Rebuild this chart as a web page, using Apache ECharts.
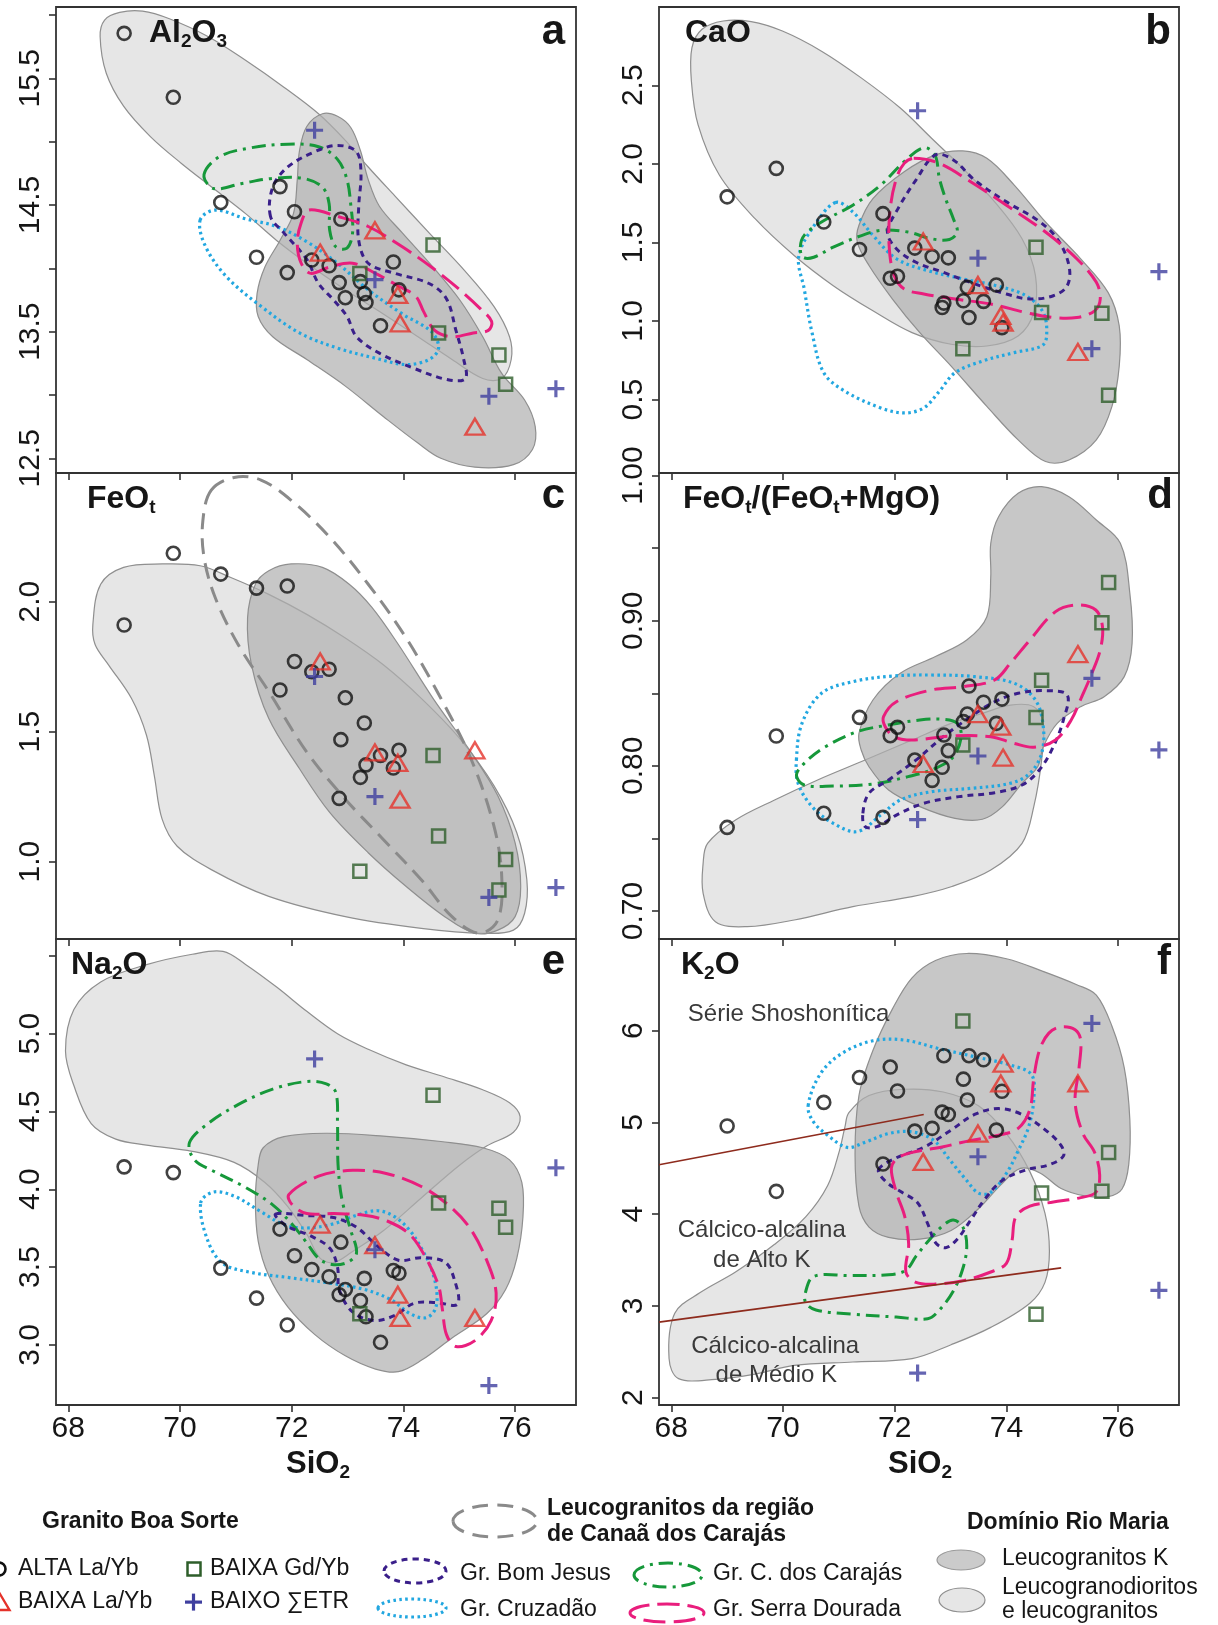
<!DOCTYPE html>
<html>
<head>
<meta charset="utf-8">
<title>Diagramas SiO2</title>
<script src="https://cdn.jsdelivr.net/npm/echarts@6.0.0/dist/echarts.min.js"></script>
<style>
html,body{margin:0;padding:0;background:#ffffff;}
#chart{width:1218px;height:1625px;}
</style>
</head>
<body>
<div id="chart"></div>
<script>
// ---------------- axis ticks ----------------
const XMIN = 67.78, XMAX = 77.09;
const xTicks = [68, 70, 72, 74, 76];
const aYTicks = [12.5, 13, 13.5, 14, 14.5, 15, 15.5, 16];
const aYLabels = [12.5, 13.5, 14.5, 15.5];
const bYTicks = [0.5, 1.0, 1.5, 2.0, 2.5];
const cYTicks = [1.0, 1.5, 2.0];
const dYTicks = [0.70, 0.75, 0.80, 0.85, 0.90, 0.95, 1.00];
const dYLabels = [0.70, 0.80, 0.90, 1.00];
const eYTicks = [3.0, 3.5, 4.0, 4.5, 5.0, 5.5];
const eYLabels = [3.0, 3.5, 4.0, 4.5, 5.0];
const fYTicks = [2, 3, 4, 5, 6];

// ---------------- samples: Granito Boa Sorte ----------------
// ALTA La/Yb (circles)
const circleSiO2 = [69.0, 69.88, 70.73, 71.37, 71.79, 71.92, 72.05, 72.36, 72.67, 72.85, 72.88, 72.96, 73.23, 73.30, 73.33, 73.59, 73.82, 73.92];
const circleAl2O3 = [15.855, 15.35, 14.52, 14.087, 14.645, 13.966, 14.447, 14.066, 14.02, 13.887, 14.387, 13.768, 13.895, 13.80, 13.73, 13.547, 14.05, 13.83];
const circleCaO = [1.79, 1.971, 1.63, 1.455, 1.683, 1.272, 1.285, 1.464, 1.41, 1.086, 1.114, 1.402, 1.129, 1.214, 1.022, 1.125, 1.229, 0.958];
const circleFeOt = [1.91, 2.186, 2.106, 2.052, 1.66, 2.06, 1.77, 1.73, 1.74, 1.243, 1.469, 1.63, 1.324, 1.533, 1.372, 1.408, 1.36, 1.428];
const circleFeMg = [0.7576, 0.8206, 0.7673, 0.8334, 0.7645, 0.8208, 0.8266, 0.804, 0.790, 0.799, 0.8213, 0.8105, 0.8305, 0.8357, 0.855, 0.8438, 0.8293, 0.846];
const circleNa2O = [4.144, 4.107, 3.493, 3.30, 3.744, 3.127, 3.573, 3.484, 3.438, 3.322, 3.66, 3.356, 3.284, 3.427, 3.18, 3.016, 3.478, 3.46];
const circleK2O = [4.962, 4.249, 5.219, 5.49, 4.547, 5.604, 5.343, 4.906, 4.936, 5.113, 5.728, 5.087, 5.472, 5.245, 5.728, 5.683, 4.917, 5.34];
// BAIXA La/Yb (triangles)
const triSiO2 = [72.51, 73.49, 73.90, 73.94, 75.28];
const triAl2O3 = [14.124, 14.30, 13.79, 13.566, 12.75];
const triCaO = [1.506, 1.229, 1.033, 0.99, 0.803];
const triFeOt = [1.77, 1.42, 1.38, 1.238, 1.428];
const triFeMg = [0.8013, 0.8357, 0.827, 0.8057, 0.877];
const triNa2O = [3.773, 3.64, 3.322, 3.173, 3.173];
const triK2O = [4.57, 4.879, 5.426, 5.642, 5.426];
// BAIXA Gd/Yb (squares)
const sqSiO2 = [73.22, 74.53, 74.63, 75.71, 75.83];
const sqAl2O3 = [13.96, 14.184, 13.49, 13.316, 13.084];
const sqCaO = [0.824, 1.47, 1.054, 1.05, 0.528];
const sqFeOt = [0.963, 1.408, 1.098, 0.891, 1.008];
const sqFeMg = [0.8144, 0.8334, 0.859, 0.8987, 0.9263];
const sqNa2O = [3.20, 4.604, 3.911, 3.878, 3.756];
const sqK2O = [6.106, 2.909, 4.23, 4.249, 4.672];
// BAIXO SumETR (plus)
const plusSiO2 = [72.41, 73.49, 75.53, 76.73];
const plusAl2O3 = [15.09, 13.91, 12.99, 13.05];
const plusCaO = [2.338, 1.40, 0.824, 1.314];
const plusFeOt = [1.712, 1.25, 0.862, 0.90];
const plusFeMg = [0.763, 0.8068, 0.8603, 0.811];
const plusNa2O = [4.838, 3.611, 2.738, 4.138];
const plusK2O = [2.268, 4.626, 6.08, 3.17];

// ---------------- comparison fields (SiO2, oxide) ----------------
const aLight = [[68.57,15.83],[68.65,15.96],[68.92,16.02],[69.33,16.03],[69.81,15.97],[70.50,15.83],[71.18,15.64],[71.86,15.43],[72.48,15.22],[72.96,15.01],[73.37,14.80],[73.85,14.57],[74.46,14.28],[75.08,13.99],[75.62,13.70],[75.90,13.46],[75.93,13.28],[75.76,13.13],[75.42,13.13],[74.87,13.28],[74.26,13.46],[73.64,13.64],[72.96,13.83],[72.27,14.04],[71.73,14.22],[71.18,14.43],[70.63,14.62],[70.02,14.83],[69.47,15.04],[68.99,15.28],[68.68,15.54]];
const aDark = [[72.27,15.12],[72.55,15.22],[72.82,15.20],[73.06,15.11],[73.23,14.93],[73.37,14.70],[73.57,14.49],[73.98,14.28],[74.53,14.01],[75.01,13.75],[75.42,13.46],[75.76,13.17],[76.17,12.96],[76.36,12.75],[76.31,12.57],[75.97,12.45],[75.28,12.43],[74.67,12.50],[74.26,12.62],[73.64,12.83],[72.96,13.07],[72.27,13.28],[71.66,13.46],[71.40,13.62],[71.38,13.80],[71.52,14.01],[71.79,14.22],[72.03,14.43],[72.10,14.70],[72.14,14.93]];
const aBom = [[71.62,14.41],[71.66,14.64],[71.93,14.80],[72.41,14.92],[72.82,14.97],[73.16,14.92],[73.24,14.75],[73.20,14.49],[73.20,14.22],[73.37,14.04],[73.85,13.96],[74.46,13.88],[74.77,13.76],[74.94,13.51],[75.08,13.28],[75.11,13.13],[74.80,13.12],[74.19,13.21],[73.57,13.33],[73.16,13.46],[72.99,13.62],[72.75,13.75],[72.48,13.88],[72.27,14.07],[71.86,14.28]];
const aCru = [[70.36,14.38],[70.63,14.46],[71.18,14.39],[71.73,14.33],[72.27,14.21],[72.82,14.04],[73.37,13.83],[73.98,13.64],[74.50,13.50],[74.63,13.37],[74.46,13.28],[74.05,13.24],[73.50,13.29],[72.82,13.37],[72.14,13.49],[71.45,13.70],[70.84,13.93],[70.46,14.17]];
const aCar = [[70.43,14.74],[70.70,14.88],[71.25,14.95],[71.93,14.98],[72.48,14.96],[72.82,14.86],[72.99,14.70],[73.06,14.49],[73.09,14.28],[72.99,14.16],[72.79,14.17],[72.68,14.30],[72.67,14.51],[72.55,14.64],[72.21,14.71],[71.66,14.71],[71.11,14.67],[70.60,14.63]];
const aSer = [[72.31,14.46],[72.82,14.41],[73.37,14.33],[73.98,14.17],[74.53,14.00],[75.01,13.83],[75.38,13.68],[75.58,13.58],[75.52,13.51],[75.25,13.49],[74.87,13.46],[74.56,13.51],[74.36,13.66],[74.22,13.78],[73.91,13.86],[73.50,13.96],[73.09,14.04],[72.68,14.01],[72.34,13.96],[72.17,14.04],[72.10,14.20],[72.17,14.36]];

const bLight = [[68.37,2.739],[68.55,2.856],[68.93,2.909],[69.43,2.905],[69.99,2.845],[70.69,2.717],[71.40,2.547],[72.10,2.355],[72.66,2.163],[73.22,1.971],[73.79,1.758],[74.28,1.523],[74.52,1.289],[74.49,1.054],[74.21,0.905],[73.65,0.841],[73.01,0.852],[72.31,0.926],[71.61,1.065],[70.90,1.225],[70.20,1.417],[69.50,1.651],[68.86,1.929],[68.48,2.248],[68.36,2.526]];
const bDark = [[71.36,1.609],[71.61,1.779],[72.17,1.950],[72.73,2.057],[73.22,2.082],[73.65,2.035],[74.14,1.865],[74.70,1.630],[75.33,1.396],[75.82,1.182],[76.02,0.969],[76.02,0.713],[75.89,0.457],[75.61,0.244],[75.12,0.116],[74.70,0.106],[74.21,0.244],[73.65,0.457],[73.01,0.713],[72.45,0.926],[71.96,1.140],[71.54,1.353],[71.33,1.502]];
const bBom = [[71.87,1.566],[72.06,1.715],[72.38,1.897],[72.73,2.057],[73.05,2.025],[73.43,1.897],[74.00,1.758],[74.56,1.641],[74.91,1.523],[75.12,1.353],[75.09,1.225],[74.84,1.161],[74.42,1.140],[74.00,1.172],[73.43,1.236],[72.87,1.310],[72.38,1.374],[72.03,1.460]];
const bCru = [[70.94,1.754],[71.25,1.694],[71.61,1.545],[72.03,1.396],[72.59,1.321],[73.22,1.268],[73.86,1.221],[74.35,1.161],[74.66,1.054],[74.72,0.905],[74.63,0.841],[74.14,0.799],[73.57,0.745],[73.08,0.671],[72.80,0.553],[72.52,0.447],[72.17,0.415],[71.75,0.447],[71.11,0.553],[70.73,0.671],[70.52,0.926],[70.38,1.204],[70.28,1.406],[70.52,1.587]];
const bCar = [[70.31,1.470],[70.38,1.545],[70.69,1.630],[71.25,1.737],[71.75,1.865],[72.17,2.014],[72.52,2.103],[72.72,2.057],[72.80,1.907],[72.91,1.779],[73.05,1.651],[73.12,1.566],[72.98,1.519],[72.66,1.523],[72.24,1.566],[71.75,1.577],[71.33,1.534],[70.90,1.470],[70.55,1.406],[70.36,1.406]];
const bSer = [[72.34,2.035],[72.80,2.003],[73.36,1.886],[74.00,1.737],[74.70,1.566],[75.26,1.396],[75.61,1.246],[75.68,1.140],[75.58,1.065],[75.26,1.022],[74.84,1.022],[74.35,1.054],[73.72,1.108],[73.08,1.140],[72.52,1.172],[72.17,1.204],[71.99,1.289],[71.90,1.481],[71.92,1.715],[72.03,1.907],[72.17,2.003]];

const cLight = [[68.44,1.912],[68.58,2.067],[68.99,2.132],[69.68,2.145],[70.36,2.138],[70.91,2.093],[71.59,2.028],[72.27,1.951],[72.96,1.860],[73.64,1.757],[74.32,1.628],[75.01,1.473],[75.62,1.292],[76.03,1.111],[76.21,0.930],[76.17,0.801],[75.97,0.736],[75.42,0.724],[74.32,0.743],[72.96,0.788],[71.59,0.866],[70.56,0.969],[69.95,1.059],[69.68,1.163],[69.54,1.331],[69.40,1.486],[69.13,1.628],[68.72,1.757],[68.48,1.835]];
const cDark = [[71.59,2.119],[71.99,2.145],[72.55,2.132],[73.03,2.067],[73.44,1.977],[73.91,1.835],[74.53,1.628],[75.21,1.421],[75.69,1.253],[76.00,1.072],[76.10,0.904],[76.00,0.788],[75.69,0.736],[75.28,0.724],[74.74,0.788],[74.05,0.904],[73.37,1.034],[72.68,1.189],[72.14,1.357],[71.59,1.550],[71.28,1.757],[71.21,1.938],[71.35,2.067]];
const cCan = [[70.56,2.429],[70.97,2.478],[71.45,2.468],[71.99,2.390],[72.68,2.248],[73.37,2.067],[74.05,1.860],[74.67,1.628],[75.21,1.395],[75.62,1.137],[75.76,0.943],[75.69,0.775],[75.35,0.724],[74.87,0.788],[74.32,0.930],[73.64,1.085],[72.96,1.240],[72.27,1.421],[71.59,1.654],[71.04,1.835],[70.63,2.016],[70.43,2.171],[70.41,2.313]];

const dLight = [[68.65,0.7466],[69.15,0.7627],[69.85,0.7765],[70.62,0.7903],[71.47,0.8040],[72.31,0.8178],[73.01,0.8293],[73.57,0.8362],[74.07,0.8419],[74.49,0.8408],[74.66,0.8293],[74.63,0.8040],[74.49,0.7719],[74.28,0.7466],[73.72,0.7282],[73.01,0.7167],[72.31,0.7099],[71.25,0.7030],[70.20,0.6938],[69.36,0.6892],[68.79,0.6926],[68.57,0.7122],[68.57,0.7328]];
const dDark = [[71.36,0.8224],[71.61,0.8454],[72.10,0.8638],[72.73,0.8753],[73.29,0.8867],[73.65,0.9028],[73.72,0.9304],[73.72,0.9534],[73.86,0.9717],[74.21,0.9878],[74.63,0.9924],[75.12,0.9855],[75.61,0.9694],[76.04,0.9534],[76.21,0.9189],[76.25,0.8844],[76.11,0.8615],[75.75,0.8477],[75.33,0.8408],[74.91,0.8293],[74.66,0.8132],[74.56,0.7994],[74.28,0.7880],[73.93,0.7719],[73.57,0.7632],[73.08,0.7638],[72.45,0.7719],[71.89,0.7834],[71.54,0.7994],[71.40,0.8109]];
const dBom = [[71.43,0.7673],[71.54,0.7811],[71.89,0.7903],[72.38,0.8040],[72.87,0.8201],[73.36,0.8339],[73.79,0.8442],[74.21,0.8500],[74.70,0.8518],[75.09,0.8488],[75.02,0.8316],[74.84,0.8132],[74.59,0.7972],[74.28,0.7868],[73.79,0.7815],[73.15,0.7788],[72.52,0.7742],[72.03,0.7661],[71.68,0.7581],[71.47,0.7581]];
const dCru = [[70.24,0.8040],[70.34,0.8293],[70.69,0.8500],[71.25,0.8580],[71.96,0.8619],[72.66,0.8626],[73.43,0.8615],[74.14,0.8569],[74.52,0.8454],[74.66,0.8270],[74.63,0.8086],[74.42,0.7949],[74.07,0.7880],[73.36,0.7845],[72.66,0.7822],[72.10,0.7765],[71.75,0.7661],[71.33,0.7547],[70.90,0.7604],[70.52,0.7719],[70.27,0.7880]];
const dCar = [[70.24,0.7937],[70.38,0.7868],[70.90,0.7861],[71.61,0.7875],[72.24,0.7926],[72.73,0.7983],[73.05,0.8063],[73.19,0.8201],[73.12,0.8293],[72.87,0.8321],[72.45,0.8316],[71.89,0.8282],[71.33,0.8236],[70.76,0.8132],[70.41,0.8029]];
const dSer = [[71.80,0.8339],[72.03,0.8442],[72.66,0.8523],[73.22,0.8546],[73.79,0.8592],[74.07,0.8707],[74.42,0.8867],[74.88,0.9063],[75.26,0.9109],[75.60,0.9074],[75.72,0.8959],[75.68,0.8799],[75.53,0.8638],[75.35,0.8477],[75.16,0.8316],[74.88,0.8178],[74.49,0.8128],[74.14,0.8155],[73.72,0.8201],[73.01,0.8206],[72.31,0.8178],[71.99,0.8201],[71.83,0.8270]];

const eLight = [[67.95,4.889],[68.10,5.156],[68.58,5.333],[69.40,5.444],[70.22,5.511],[70.77,5.529],[71.18,5.444],[71.73,5.300],[72.27,5.144],[72.82,5.000],[73.37,4.900],[74.05,4.800],[74.74,4.722],[75.42,4.640],[75.90,4.556],[76.09,4.467],[75.97,4.367],[75.49,4.278],[75.01,4.156],[74.32,3.944],[73.64,3.733],[73.09,3.600],[72.75,3.529],[72.51,3.556],[72.27,3.711],[71.93,3.889],[71.52,4.044],[70.97,4.173],[70.22,4.244],[69.40,4.284],[68.85,4.322],[68.41,4.422],[68.10,4.667]];
const eDark = [[71.49,4.267],[71.86,4.338],[72.62,4.360],[73.64,4.342],[74.67,4.307],[75.42,4.267],[75.90,4.189],[76.12,4.044],[76.14,3.822],[76.03,3.556],[75.83,3.356],[75.49,3.200],[74.87,3.044],[74.32,2.900],[73.91,2.827],[73.50,2.844],[72.96,2.929],[72.41,3.067],[71.93,3.244],[71.59,3.444],[71.40,3.667],[71.35,3.933],[71.40,4.156]];
const eBom = [[71.71,3.840],[72.27,3.831],[72.75,3.818],[73.16,3.756],[73.54,3.633],[73.91,3.544],[74.32,3.560],[74.74,3.533],[74.91,3.422],[74.97,3.262],[74.60,3.271],[74.19,3.267],[73.85,3.189],[73.47,3.156],[73.09,3.211],[72.85,3.356],[72.82,3.500],[72.68,3.622],[72.34,3.700],[71.90,3.767]];
const eCru = [[70.37,3.911],[70.60,3.982],[70.97,3.956],[71.45,3.856],[71.86,3.773],[72.27,3.751],[72.75,3.778],[73.16,3.833],[73.54,3.862],[73.85,3.822],[74.12,3.733],[74.32,3.622],[74.50,3.489],[74.60,3.333],[74.56,3.222],[74.39,3.173],[74.12,3.200],[73.78,3.289],[73.30,3.356],[72.62,3.400],[71.93,3.433],[71.25,3.467],[70.77,3.522],[70.50,3.667]];
const eCar = [[70.17,4.300],[70.50,4.422],[71.04,4.544],[71.66,4.644],[72.27,4.693],[72.62,4.678],[72.79,4.622],[72.82,4.422],[72.83,4.156],[72.90,3.933],[73.06,3.733],[73.16,3.589],[72.99,3.529],[72.72,3.516],[72.48,3.556],[72.27,3.656],[72.00,3.778],[71.66,3.900],[71.18,4.011],[70.63,4.111],[70.26,4.189]];
const eSer = [[71.95,3.967],[72.48,4.084],[73.09,4.122],[73.71,4.100],[74.32,4.018],[74.80,3.900],[75.18,3.756],[75.49,3.544],[75.66,3.333],[75.57,3.156],[75.28,3.027],[74.94,2.989],[74.77,3.067],[74.70,3.222],[74.63,3.378],[74.39,3.567],[74.11,3.711],[73.71,3.796],[73.30,3.833],[72.75,3.844],[72.27,3.844],[72.01,3.900]];

const fLight = [[71.18,5.106],[71.54,5.294],[72.17,5.362],[72.87,5.332],[73.50,5.181],[74.00,4.879],[74.42,4.464],[74.69,4.011],[74.77,3.596],[74.69,3.257],[74.42,3.030],[73.72,2.766],[73.01,2.577],[72.31,2.426],[71.25,2.389],[70.20,2.351],[69.50,2.257],[68.79,2.200],[68.13,2.208],[67.96,2.426],[68.06,2.917],[68.51,3.143],[69.15,3.370],[69.85,3.672],[70.41,3.974],[70.80,4.313],[71.01,4.691],[71.11,4.955]];
const fDark = [[71.29,4.653],[71.36,5.294],[71.61,5.785],[71.96,6.238],[72.31,6.577],[72.73,6.766],[73.29,6.842],[74.00,6.785],[74.63,6.653],[75.26,6.502],[75.61,6.389],[75.89,6.049],[76.11,5.596],[76.21,5.030],[76.19,4.540],[76.07,4.275],[75.82,4.192],[75.40,4.200],[74.98,4.280],[74.60,4.450],[74.25,4.500],[73.90,4.320],[73.50,4.060],[73.01,3.823],[72.45,3.728],[71.89,3.747],[71.54,3.860],[71.36,4.087]];
const fBom = [[71.71,4.483],[72.03,4.615],[72.52,4.728],[73.01,4.917],[73.43,5.087],[73.86,5.151],[74.28,5.087],[74.70,4.917],[74.98,4.747],[75.02,4.634],[74.77,4.540],[74.35,4.483],[73.93,4.370],[73.61,4.162],[73.36,3.936],[73.12,3.728],[72.91,3.634],[72.73,3.691],[72.59,3.898],[72.41,4.125],[72.13,4.238],[71.85,4.351]];
const fCru = [[70.45,5.181],[70.66,5.521],[71.04,5.747],[71.61,5.891],[72.17,5.898],[72.80,5.804],[73.43,5.717],[74.07,5.626],[74.45,5.521],[74.49,5.257],[74.40,4.955],[74.21,4.691],[74.00,4.445],[73.72,4.238],[73.50,4.230],[73.26,4.389],[72.98,4.596],[72.70,4.804],[72.31,4.898],[71.89,4.879],[71.47,4.785],[71.15,4.728],[70.80,4.860],[70.54,5.011]];
const fCar = [[70.40,3.143],[70.55,3.321],[71.18,3.332],[71.89,3.340],[72.20,3.389],[72.38,3.540],[72.63,3.728],[72.87,3.879],[73.05,3.936],[73.22,3.860],[73.29,3.653],[73.22,3.408],[73.05,3.162],[72.80,2.955],[72.59,2.860],[72.03,2.879],[71.25,2.909],[70.59,2.955],[70.41,3.030]];
const fSer = [[71.94,4.502],[72.03,4.238],[72.18,3.974],[72.25,3.672],[72.20,3.370],[72.38,3.257],[72.73,3.238],[73.22,3.275],[73.72,3.370],[74.00,3.464],[74.10,3.709],[74.17,3.974],[74.42,4.087],[74.84,4.132],[75.33,4.181],[75.60,4.238],[75.67,4.426],[75.58,4.672],[75.37,4.879],[75.23,5.219],[75.30,5.596],[75.33,5.898],[75.23,6.011],[74.98,6.042],[74.76,5.974],[74.59,5.785],[74.49,5.483],[74.42,5.143],[74.21,4.936],[73.86,4.860],[73.36,4.804],[72.87,4.736],[72.38,4.683],[72.06,4.615]];

// K2O series boundaries and labels
const fLineShoHK = [[67.78, 4.54], [72.52, 5.087]];
const fLineHKMK = [[67.78, 2.823], [74.98, 3.415]];
const fTextPos = [[70.10, 6.18], [69.62, 3.823], [69.62, 3.50], [69.86, 2.558], [69.88, 2.238]];
const fTextLabels = ['Série Shoshonítica', 'Cálcico-alcalina', 'de Alto K', 'Cálcico-alcalina', 'de Médio K'];

// ---------------- layout / styles ----------------
const FONT = '"Liberation Sans", Arial, Helvetica, sans-serif';
const INK = '#161616';
const FRAME = '#333333';
const GRID_LEFT = [56, 659];
const GRID_TOP = [7, 473, 939];
const GRID_W = 520, GRID_H = 466;

const STY = {
  light: {z: 1, fill: '#e6e6e6', stroke: '#8f8f8f', lineWidth: 1.2},
  dark:  {z: 2, fill: 'rgba(175,175,175,0.70)', stroke: '#8f8f8f', lineWidth: 1.2},
  bom:   {z: 3, fill: 'none', stroke: '#3a1f8a', lineWidth: 3, lineDash: [6, 5]},
  cru:   {z: 3, fill: 'none', stroke: '#22a7e0', lineWidth: 3.2, lineDash: [2.6, 3.4]},
  car:   {z: 3, fill: 'none', stroke: '#16983a', lineWidth: 3, lineDash: [14, 6, 3, 6]},
  ser:   {z: 3, fill: 'none', stroke: '#e91e7d', lineWidth: 3, lineDash: [22, 8]},
  can:   {z: 3, fill: 'none', stroke: '#8a8a8a', lineWidth: 3, lineDash: [16, 9]}
};

const MK = {
  circle: {symbol: 'circle', size: 13, itemStyle: {color: 'rgba(0,0,0,0)', borderColor: '#111111', borderWidth: 2.6}},
  tri:    {symbol: 'triangle', size: [19, 16], itemStyle: {color: 'rgba(0,0,0,0)', borderColor: '#e5322a', borderWidth: 2.4}},
  sq:     {symbol: 'rect', size: 13, itemStyle: {color: 'rgba(0,0,0,0)', borderColor: '#2e5e2a', borderWidth: 2.5}},
  plus:   {symbol: 'path://M6.5,0H9.5V6.5H16V9.5H9.5V16H6.5V9.5H0V6.5H6.5Z', size: 17, itemStyle: {color: '#3f3f9f', borderWidth: 0}}
};

const panels = [
  {col: 0, row: 0, ymin: 12.384, ymax: 16.063, ticks: aYTicks, labels: aYLabels, dec: 1,
   y: [circleAl2O3, triAl2O3, sqAl2O3, plusAl2O3],
   fields: [['light', aLight], ['dark', aDark], ['cru', aCru], ['car', aCar], ['bom', aBom], ['ser', aSer]]},
  {col: 1, row: 0, ymin: 0.033, ymax: 2.998, ticks: bYTicks, labels: bYTicks, dec: 1,
   y: [circleCaO, triCaO, sqCaO, plusCaO],
   fields: [['light', bLight], ['dark', bDark], ['cru', bCru], ['car', bCar], ['bom', bBom], ['ser', bSer]]},
  {col: 0, row: 1, ymin: 0.702, ymax: 2.495, ticks: cYTicks, labels: cYTicks, dec: 1,
   y: [circleFeOt, triFeOt, sqFeOt, plusFeOt],
   fields: [['light', cLight], ['dark', cDark], ['can', cCan]]},
  {col: 1, row: 1, ymin: 0.6807, ymax: 1.0018, ticks: dYTicks, labels: dYLabels, dec: 2,
   y: [circleFeMg, triFeMg, sqFeMg, plusFeMg],
   fields: [['light', dLight], ['dark', dDark], ['cru', dCru], ['car', dCar], ['bom', dBom], ['ser', dSer]]},
  {col: 0, row: 2, ymin: 2.613, ymax: 5.609, ticks: eYTicks, labels: eYLabels, dec: 1,
   y: [circleNa2O, triNa2O, sqNa2O, plusNa2O],
   fields: [['light', eLight], ['dark', eDark], ['cru', eCru], ['car', eCar], ['bom', eBom], ['ser', eSer]]},
  {col: 1, row: 2, ymin: 1.92, ymax: 7.0, ticks: fYTicks, labels: fYTicks, dec: 0,
   y: [circleK2O, triK2O, sqK2O, plusK2O],
   fields: [['light', fLight], ['dark', fDark], ['cru', fCru], ['car', fCar], ['bom', fBom], ['ser', fSer]]}
];
const sampleX = [circleSiO2, triSiO2, sqSiO2, plusSiO2];
const sampleMK = [MK.circle, MK.tri, MK.sq, MK.plus];

function fieldSeries(gi, pts, st) {
  return {
    type: 'custom', xAxisIndex: gi, yAxisIndex: gi, silent: true, z: st.z,
    data: pts, encode: {x: 0, y: 1},
    renderItem: function (params, api) {
      if (params.dataIndex !== 0) return null;
      const style = {fill: st.fill, stroke: st.stroke, lineWidth: st.lineWidth};
      if (st.lineDash) style.lineDash = st.lineDash;
      return {type: 'polygon', shape: {points: pts.map(function (p) { return api.coord(p); }), smooth: 0.35}, style: style};
    }
  };
}
function markerSeries(gi, xs, ys, mk) {
  return {
    type: 'scatter', xAxisIndex: gi, yAxisIndex: gi, silent: true, z: 10,
    data: xs.map(function (x, k) { return [x, ys[k]]; }),
    symbol: mk.symbol, symbolSize: mk.size, itemStyle: mk.itemStyle
  };
}

const grids = [], xAxes = [], yAxes = [], series = [];
panels.forEach(function (P, i) {
  grids.push({left: GRID_LEFT[P.col], top: GRID_TOP[P.row], width: GRID_W, height: GRID_H,
    show: true, borderColor: FRAME, borderWidth: 1.8, backgroundColor: 'rgba(0,0,0,0)', outerBoundsMode: 'none'});
  xAxes.push({gridIndex: i, type: 'value', min: XMIN, max: XMAX, position: 'bottom',
    axisLine: {show: false, onZero: false}, splitLine: {show: false},
    axisTick: {show: true, length: 7, customValues: xTicks, lineStyle: {color: FRAME, width: 1.6}},
    axisLabel: {show: P.row === 2, customValues: xTicks, margin: 9, fontSize: 30, fontFamily: FONT, color: INK,
      formatter: function (v) { return String(v); }}});
  yAxes.push({gridIndex: i, type: 'value', min: P.ymin, max: P.ymax, position: 'left',
    axisLine: {show: false, onZero: false}, splitLine: {show: false},
    axisTick: {show: true, length: 7, customValues: P.ticks, lineStyle: {color: FRAME, width: 1.6}},
    axisLabel: {show: true, customValues: P.labels, rotate: 90, margin: 10, fontSize: 30, fontFamily: FONT, color: INK,
      formatter: function (v) { return Number(v).toFixed(P.dec); }}});
  P.fields.forEach(function (f) { series.push(fieldSeries(i, f[1], STY[f[0]])); });
  if (i === 5) {
    [fLineShoHK, fLineHKMK].forEach(function (ln) {
      series.push({type: 'line', xAxisIndex: 5, yAxisIndex: 5, data: ln, symbol: 'none', silent: true, z: 4,
        lineStyle: {color: '#8e2b1d', width: 1.6}});
    });
    series.push({type: 'custom', xAxisIndex: 5, yAxisIndex: 5, silent: true, z: 6, data: fTextPos, encode: {x: 0, y: 1},
      renderItem: function (params, api) {
        const p = api.coord([api.value(0), api.value(1)]);
        return {type: 'text', x: p[0], y: p[1], style: {text: fTextLabels[params.dataIndex], font: '24px ' + FONT,
          fill: '#3a3a3a', textAlign: 'center', textVerticalAlign: 'middle'}};
      }});
  }
  sampleX.forEach(function (xs, k) { series.push(markerSeries(i, xs, P.y[k], sampleMK[k])); });
});

// ---------------- titles, axis names, legend ----------------
const RICH = {
  b: {font: 'bold 32px ' + FONT, lineHeight: 36, fill: INK},
  s: {font: 'bold 19px ' + FONT, lineHeight: 12, verticalAlign: 'bottom', fill: INK}
};
const RICH_AX = {
  b: {font: 'bold 31px ' + FONT, lineHeight: 36, fill: INK},
  s: {font: 'bold 19px ' + FONT, lineHeight: 12, verticalAlign: 'bottom', fill: INK}
};
const titles = [
  ['{b|Al}{s|2}{b|O}{s|3}', 149, 33],
  ['{b|CaO}', 685, 33],
  ['{b|FeO}{s|t}', 87, 499],
  ['{b|FeO}{s|t}{b|/(FeO}{s|t}{b|+MgO)}', 683, 499],
  ['{b|Na}{s|2}{b|O}', 71, 965],
  ['{b|K}{s|2}{b|O}', 681, 965]
];
const letters = [['a', 565, 32], ['b', 1171, 32], ['c', 565, 496], ['d', 1173, 496], ['e', 565, 962], ['f', 1171, 962]];

const graphics = [];
titles.forEach(function (t) {
  graphics.push({type: 'text', x: t[1], y: t[2], z: 100, silent: true,
    style: {text: t[0], rich: RICH, textAlign: 'left', textVerticalAlign: 'middle'}});
});
letters.forEach(function (t) {
  graphics.push({type: 'text', x: t[1], y: t[2], z: 100, silent: true,
    style: {text: t[0], font: 'bold 42px ' + FONT, fill: INK, textAlign: 'right', textVerticalAlign: 'middle'}});
});
[318, 920].forEach(function (cx) {
  graphics.push({type: 'text', x: cx, y: 1464, z: 100, silent: true,
    style: {text: '{b|SiO}{s|2}', rich: RICH_AX, textAlign: 'center', textVerticalAlign: 'middle'}});
});

function ltext(str, x, y, bold) {
  graphics.push({type: 'text', x: x, y: y, z: 100, silent: true,
    style: {text: str, font: (bold ? 'bold ' : '') + '23px ' + FONT, fill: INK, textAlign: 'left', textVerticalAlign: 'middle'}});
}
ltext('Granito Boa Sorte', 42, 1522, true);
ltext('ALTA La/Yb', 18, 1569);
ltext('BAIXA La/Yb', 18, 1602);
ltext('BAIXA Gd/Yb', 210, 1569);
ltext('BAIXO \u2211ETR', 210, 1602);
ltext('Leucogranitos da região', 547, 1509, true);
ltext('de Canaã dos Carajás', 547, 1535, true);
ltext('Gr. Bom Jesus', 460, 1574);
ltext('Gr. Cruzadão', 460, 1610);
ltext('Gr. C. dos Carajás', 713, 1574);
ltext('Gr. Serra Dourada', 713, 1610);
ltext('Domínio Rio Maria', 967, 1523, true);
ltext('Leucogranitos K', 1002, 1559);
ltext('Leucogranodioritos', 1002, 1588);
ltext('e leucogranitos', 1002, 1612);

// legend symbols
graphics.push({type: 'circle', z: 100, silent: true, shape: {cx: -1, cy: 1569, r: 6.5}, style: {fill: 'none', stroke: '#111111', lineWidth: 2.6}});
graphics.push({type: 'polygon', z: 100, silent: true, shape: {points: [[0, 1594], [9.5, 1610], [-9.5, 1610]]}, style: {fill: 'none', stroke: '#e5322a', lineWidth: 2.4}});
graphics.push({type: 'rect', z: 100, silent: true, shape: {x: 187.5, y: 1562.5, width: 13, height: 13}, style: {fill: 'none', stroke: '#2e5e2a', lineWidth: 2.5}});
graphics.push({type: 'rect', z: 100, silent: true, shape: {x: 185, y: 1600.5, width: 17, height: 3.2}, style: {fill: '#3f3f9f'}});
graphics.push({type: 'rect', z: 100, silent: true, shape: {x: 191.9, y: 1593.6, width: 3.2, height: 17}, style: {fill: '#3f3f9f'}});

function lell(cx, cy, rx, ry, st) {
  const style = {fill: st.fill, stroke: st.stroke, lineWidth: st.lineWidth};
  if (st.lineDash) style.lineDash = st.lineDash;
  graphics.push({type: 'ellipse', z: 100, silent: true, shape: {cx: cx, cy: cy, rx: rx, ry: ry}, style: style});
}
lell(495, 1521, 42, 16, STY.can);
lell(415, 1571, 31, 12, STY.bom);
lell(412, 1608, 34, 9, STY.cru);
lell(668, 1575, 34, 12, STY.car);
lell(667, 1613, 37, 9, STY.ser);
lell(961, 1560, 24, 10, {fill: '#cbcbcb', stroke: '#9a9a9a', lineWidth: 1.2});
lell(962, 1600, 23, 12, {fill: '#e6e6e6', stroke: '#8f8f8f', lineWidth: 1.2});

const chart = echarts.init(document.getElementById('chart'), null, {renderer: 'canvas', width: 1218, height: 1625});
chart.setOption({
  animation: false,
  backgroundColor: '#ffffff',
  grid: grids,
  xAxis: xAxes,
  yAxis: yAxes,
  series: series,
  graphic: {elements: graphics}
});
</script>
</body>
</html>
